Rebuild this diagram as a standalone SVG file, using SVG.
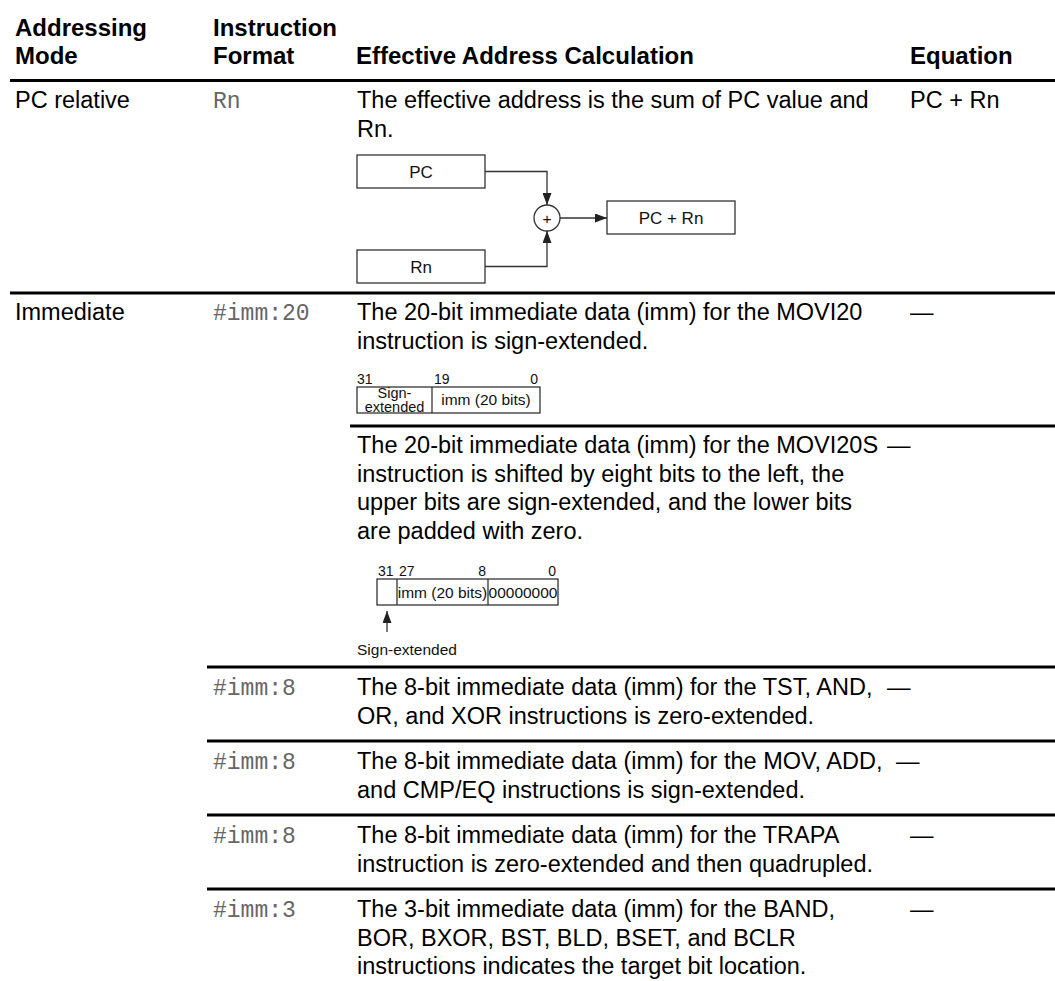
<svg xmlns="http://www.w3.org/2000/svg" width="1055" height="981" viewBox="0 0 1055 981">
<style>
.t{font-family:"Liberation Sans",Arial,sans-serif;font-size:23.5px;fill:#000}
.h{font-weight:bold;font-size:24px}
.m{font-family:"Liberation Mono","Courier New",monospace;font-size:23px;fill:#666}
.s{font-family:"Liberation Sans",Arial,sans-serif;font-size:15.5px;fill:#111}
.d{font-family:"Liberation Sans",Arial,sans-serif;font-size:17px;fill:#111}
.n{font-family:"Liberation Sans",Arial,sans-serif;font-size:14px;fill:#111}
.c{text-anchor:middle}
.e{text-anchor:end}
.rule{stroke:#000;stroke-width:3}
.box{fill:#fff;stroke:#333;stroke-width:1.3}
.wire{fill:none;stroke:#333;stroke-width:1.3}
</style>
<defs>
<marker id="arr" viewBox="0 0 12 9" refX="12" refY="4.5" markerWidth="12" markerHeight="9" markerUnits="userSpaceOnUse" orient="auto">
<path d="M0,0 L12,4.5 L0,9 z" fill="#222"/>
</marker>
</defs>
<rect width="1055" height="981" fill="#fff"/>

<g id="header">
<text class="t h" x="15" y="36">Addressing</text>
<text class="t h" x="15" y="64">Mode</text>
<text class="t h" x="213" y="36">Instruction</text>
<text class="t h" x="213" y="64">Format</text>
<text class="t h" x="356" y="64">Effective Address Calculation</text>
<text class="t h" x="910" y="64">Equation</text>
</g>

<g id="rules">
<line class="rule" x1="10" y1="80.5" x2="1055" y2="80.5"/>
<line class="rule" x1="10" y1="293" x2="1055" y2="293"/>
<line class="rule" x1="350" y1="426" x2="1055" y2="426"/>
<line class="rule" x1="207" y1="667" x2="1055" y2="667"/>
<line class="rule" x1="207" y1="741" x2="1055" y2="741"/>
<line class="rule" x1="207" y1="815" x2="1055" y2="815"/>
<line class="rule" x1="207" y1="889" x2="1055" y2="889"/>
</g>

<g id="row-pc-relative">
<text class="t" x="15" y="108">PC relative</text>
<text class="m" x="213" y="108">Rn</text>
<text class="t" x="357" y="108">The effective address is the sum of PC value and</text>
<text class="t" x="357" y="136.5">Rn.</text>
<text class="t" x="910" y="108">PC + Rn</text>
</g>

<g id="node-pc">
<rect class="box" x="357" y="155" width="128" height="33"/>
<text class="d c" x="421" y="177.5">PC</text>
</g>
<g id="node-rn">
<rect class="box" x="357" y="250" width="128" height="33"/>
<text class="d c" x="421" y="272.5">Rn</text>
</g>
<g id="node-plus">
<circle class="box" cx="547" cy="218" r="13"/>
<text class="s c" x="547" y="223.5">+</text>
</g>
<g id="node-result">
<rect class="box" x="607" y="201" width="128" height="33"/>
<text class="d c" x="671" y="223.5">PC + Rn</text>
</g>

<g id="connectors">
<path class="wire" d="M485,171.5 H547 V205" marker-end="url(#arr)"/>
<path class="wire" d="M485,266.5 H547 V231" marker-end="url(#arr)"/>
<path class="wire" d="M560,218 H607" marker-end="url(#arr)"/>
<path class="wire" d="M387,632 V611" marker-end="url(#arr)"/>
</g>

<g id="row-movi20">
<text class="t" x="15" y="320">Immediate</text>
<text class="m" x="213" y="320">#imm:20</text>
<text class="t" x="357" y="320">The 20-bit immediate data (imm) for the MOVI20</text>
<text class="t" x="357" y="348.5">instruction is sign-extended.</text>
<text class="t" x="910" y="320">—</text>
</g>
<g id="bits-movi20">
<text class="n" x="357" y="384">31</text>
<text class="n" x="434" y="384">19</text>
<text class="n e" x="538" y="384">0</text>
<rect class="box" x="357" y="387" width="183" height="26"/>
<line class="wire" x1="432" y1="387" x2="432" y2="413"/>
<text class="s c" x="394.5" y="397.5" style="font-size:14.5px">Sign-</text>
<text class="s c" x="394.5" y="412" style="font-size:14.5px">extended</text>
<text class="s c" x="486" y="405">imm (20 bits)</text>
</g>

<g id="row-movi20s">
<text class="t" x="357" y="453">The 20-bit immediate data (imm) for the MOVI20S</text>
<text class="t" x="357" y="481.5">instruction is shifted by eight bits to the left, the</text>
<text class="t" x="357" y="510">upper bits are sign-extended, and the lower bits</text>
<text class="t" x="357" y="538.5">are padded with zero.</text>
<text class="t" x="887" y="453">—</text>
</g>
<g id="bits-movi20s">
<text class="n" x="378" y="576">31</text>
<text class="n" x="399" y="576">27</text>
<text class="n e" x="486" y="576">8</text>
<text class="n e" x="556" y="576">0</text>
<rect class="box" x="377" y="579" width="181" height="26"/>
<line class="wire" x1="397" y1="579" x2="397" y2="605"/>
<line class="wire" x1="488" y1="579" x2="488" y2="605"/>
<text class="s c" x="442.5" y="598">imm (20 bits)</text>
<text class="s c" x="523" y="598">00000000</text>
<text class="s" x="357" y="655">Sign-extended</text>
</g>

<g id="row-tst">
<text class="m" x="213" y="695">#imm:8</text>
<text class="t" x="357" y="695">The 8-bit immediate data (imm) for the TST, AND,</text>
<text class="t" x="357" y="723.5">OR, and XOR instructions is zero-extended.</text>
<text class="t" x="887" y="695">—</text>
</g>

<g id="row-mov">
<text class="m" x="213" y="769">#imm:8</text>
<text class="t" x="357" y="769">The 8-bit immediate data (imm) for the MOV, ADD,</text>
<text class="t" x="357" y="797.5">and CMP/EQ instructions is sign-extended.</text>
<text class="t" x="896" y="769">—</text>
</g>

<g id="row-trapa">
<text class="m" x="213" y="843">#imm:8</text>
<text class="t" x="357" y="843">The 8-bit immediate data (imm) for the TRAPA</text>
<text class="t" x="357" y="871.5">instruction is zero-extended and then quadrupled.</text>
<text class="t" x="910" y="843">—</text>
</g>

<g id="row-band">
<text class="m" x="213" y="917">#imm:3</text>
<text class="t" x="357" y="917">The 3-bit immediate data (imm) for the BAND,</text>
<text class="t" x="357" y="945.5">BOR, BXOR, BST, BLD, BSET, and BCLR</text>
<text class="t" x="357" y="974">instructions indicates the target bit location.</text>
<text class="t" x="910" y="917">—</text>
</g>
</svg>
